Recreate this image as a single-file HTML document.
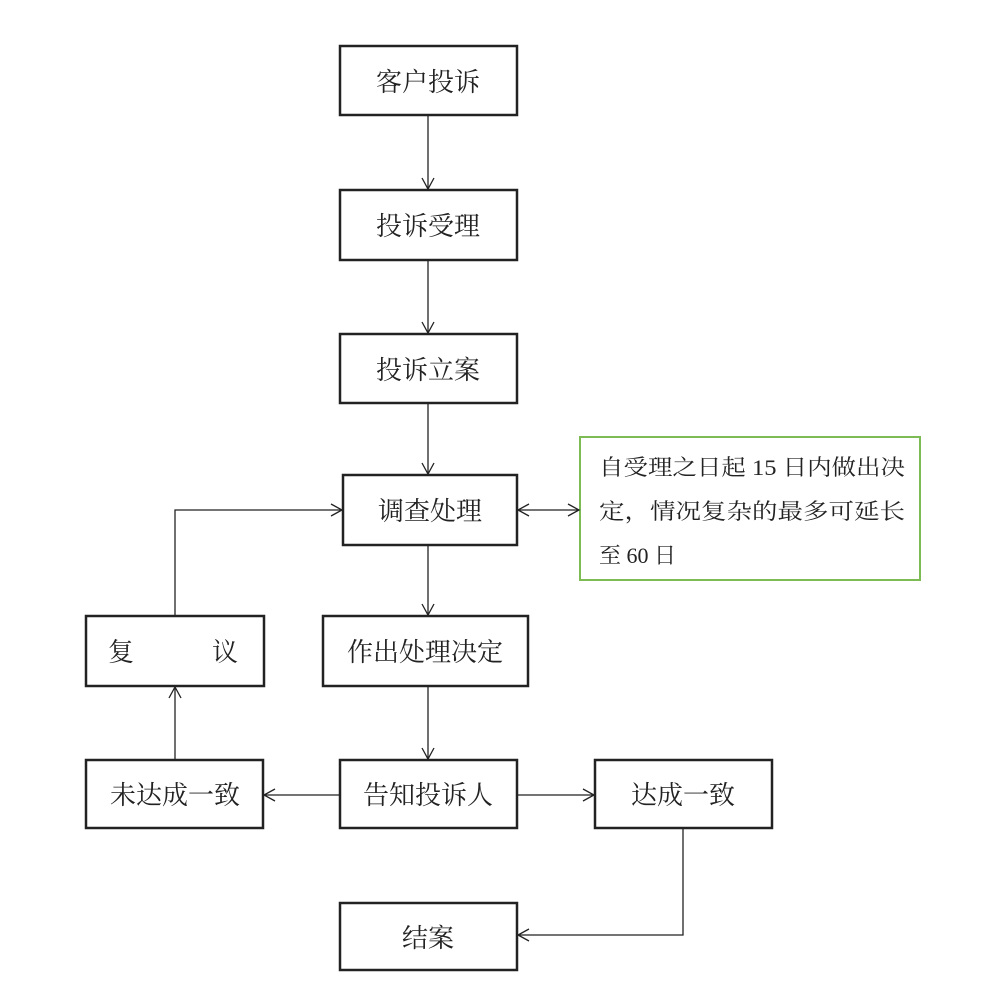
<!DOCTYPE html>
<html><head><meta charset="utf-8"><style>
html,body{margin:0;padding:0;background:#fff;width:1001px;height:984px;overflow:hidden}
svg text{font-family:"Liberation Serif","Noto Serif CJK SC","Noto Sans CJK SC",serif;fill:#222}
</style></head><body>
<svg width="1001" height="984" viewBox="0 0 1001 984" xmlns="http://www.w3.org/2000/svg">
<defs>
<marker id="a" markerWidth="14" markerHeight="14" refX="12" refY="7" orient="auto" markerUnits="userSpaceOnUse">
<path d="M1,1 L12,7 L1,13" fill="none" stroke="#222" stroke-width="1.3"/>
</marker>
</defs>
<g fill="none" stroke="#222" stroke-width="2.5">
<rect x="340" y="46" width="177" height="69"/>
<rect x="340" y="190" width="177" height="70"/>
<rect x="340" y="334" width="177" height="69"/>
<rect x="343" y="475" width="174" height="70"/>
<rect x="86" y="616" width="178" height="70"/>
<rect x="323" y="616" width="205" height="70"/>
<rect x="86" y="760" width="177" height="68"/>
<rect x="340" y="760" width="177" height="68"/>
<rect x="595" y="760" width="177" height="68"/>
<rect x="340" y="903" width="177" height="67"/>
</g>
<rect x="580" y="437" width="340" height="143" fill="none" stroke="#7dbb55" stroke-width="2"/>
<g fill="none" stroke="#222" stroke-width="1.3">
<line x1="428" y1="115" x2="428" y2="189" marker-end="url(#a)"/>
<line x1="428" y1="260" x2="428" y2="333" marker-end="url(#a)"/>
<line x1="428" y1="403" x2="428" y2="474" marker-end="url(#a)"/>
<line x1="428" y1="545" x2="428" y2="615" marker-end="url(#a)"/>
<line x1="428" y1="686" x2="428" y2="759" marker-end="url(#a)"/>
<polyline points="175,616 175,510 342,510" marker-end="url(#a)"/>
<line x1="175" y1="760" x2="175" y2="687" marker-end="url(#a)"/>
<line x1="340" y1="795" x2="264" y2="795" marker-end="url(#a)"/>
<line x1="517" y1="795" x2="594" y2="795" marker-end="url(#a)"/>
<polyline points="683,828 683,935 518,935" marker-end="url(#a)"/>
<line x1="548" y1="510" x2="579" y2="510" marker-end="url(#a)"/>
<line x1="548" y1="510" x2="518" y2="510" marker-end="url(#a)"/>
</g>
<g font-size="26" text-anchor="middle">
<text x="428" y="91">客户投诉</text>
<text x="428" y="235">投诉受理</text>
<text x="428" y="379">投诉立案</text>
<text x="430" y="520">调查处理</text>
<text x="425" y="661">作出处理决定</text>
<text x="175" y="804">未达成一致</text>
<text x="428" y="804">告知投诉人</text>
<text x="683" y="804">达成一致</text>
<text x="428" y="947">结案</text>
</g>
<text x="108" y="661" font-size="26">复</text>
<text x="212" y="661" font-size="26">议</text>
<g font-size="22">
<text x="599" y="475" textLength="306" lengthAdjust="spacingAndGlyphs">自受理之日起 15 日内做出决</text>
<text x="599" y="519" textLength="306" lengthAdjust="spacingAndGlyphs">定，情况复杂的最多可延长</text>
<text x="599" y="563">至 60 日</text>
</g>
</svg>
</body></html>
